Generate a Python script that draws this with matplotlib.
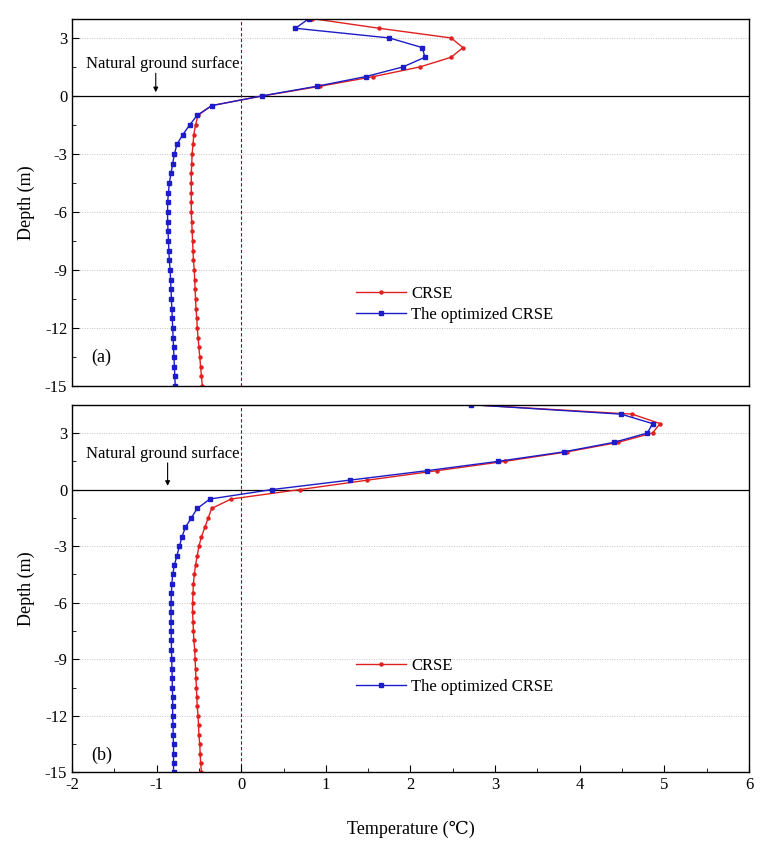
import matplotlib.pyplot as plt
from matplotlib.ticker import MultipleLocator
import numpy as np

plt.rcParams['font.family'] = ['Liberation Serif', 'DejaVu Serif']
plt.rcParams['axes.unicode_minus'] = False

# depths (m), 0.5 m steps
depth_a = [4, 3.5, 3, 2.5, 2, 1.5, 1, 0.5, 0, -0.5, -1, -1.5, -2, -2.5, -3, -3.5, -4,
           -4.5, -5, -5.5, -6, -6.5, -7, -7.5, -8, -8.5, -9, -9.5, -10, -10.5, -11,
           -11.5, -12, -12.5, -13, -13.5, -14, -14.5, -15]
depth_b = [4.5] + depth_a

# panel (a) temperatures (deg C)
crse_a = [0.84, 1.63, 2.48, 2.62, 2.48, 2.11, 1.56, 0.93, 0.25, -0.35, -0.51, -0.54,
          -0.56, -0.57, -0.58, -0.585, -0.59, -0.59, -0.59, -0.59, -0.59, -0.585, -0.58,
          -0.575, -0.57, -0.565, -0.555, -0.55, -0.545, -0.54, -0.535, -0.525, -0.52,
          -0.51, -0.50, -0.49, -0.48, -0.47, -0.46]
opt_a = [0.80, 0.64, 1.75, 2.14, 2.17, 1.91, 1.47, 0.89, 0.24, -0.35, -0.52, -0.61,
         -0.69, -0.76, -0.79, -0.81, -0.83, -0.85, -0.86, -0.87, -0.87, -0.87, -0.865,
         -0.86, -0.855, -0.85, -0.84, -0.835, -0.83, -0.825, -0.82, -0.815, -0.81,
         -0.805, -0.80, -0.795, -0.79, -0.785, -0.78]

# panel (b) temperatures (deg C)
crse_b = [2.72, 4.62, 4.95, 4.86, 4.45, 3.85, 3.12, 2.31, 1.49, 0.69, -0.12, -0.35,
          -0.39, -0.43, -0.47, -0.50, -0.52, -0.54, -0.555, -0.565, -0.57, -0.575,
          -0.575, -0.57, -0.565, -0.56, -0.55, -0.545, -0.54, -0.535, -0.53, -0.525,
          -0.52, -0.51, -0.505, -0.50, -0.49, -0.485, -0.48, -0.47]
opt_b = [2.72, 4.49, 4.86, 4.80, 4.40, 3.81, 3.04, 2.19, 1.28, 0.36, -0.37, -0.52,
         -0.59, -0.66, -0.70, -0.73, -0.76, -0.79, -0.81, -0.82, -0.825, -0.83, -0.83,
         -0.83, -0.83, -0.825, -0.825, -0.82, -0.82, -0.815, -0.815, -0.81, -0.81,
         -0.81, -0.805, -0.805, -0.80, -0.80, -0.80, -0.80]

labels = ['CRSE', 'The optimized CRSE']
yticks = [3, 0, -3, -6, -9, -12, -15]

RED = '#e02020'
BLUE = '#1c1cc8'

fig = plt.figure(figsize=(7.61, 8.46), dpi=100)
ax_a = fig.add_axes([0.0946, 0.5437, 0.8896, 0.4343])
ax_b = fig.add_axes([0.0946, 0.0869, 0.8896, 0.4347])


def draw_panel(ax, depth, crse, opt, ytop, tag, tag_y, arrow_x, text_y, leg_y):
    ax.plot(crse, depth, color=RED, lw=1.0, marker='o', ms=2.2, mec=RED, label=labels[0])
    ax.plot(opt, depth, color=BLUE, lw=1.0, marker='s', ms=2.2, mec=BLUE, label=labels[1])
    ax.axhline(0, color='black', lw=0.9, zorder=1)
    ax.axvline(0, color='#7a1030', lw=0.8, ls=(0, (3, 2)), zorder=1)
    for y in [3, -3, -6, -9, -12]:
        ax.axhline(y, color='#c4c4c4', lw=0.7, ls=(0, (1, 1.5)), zorder=0)
    ax.set_xlim(-2, 6)
    ax.set_ylim(-15, ytop)
    ax.set_yticks(yticks)
    ax.yaxis.set_minor_locator(MultipleLocator(1.5))
    ax.xaxis.set_major_locator(MultipleLocator(1))
    ax.xaxis.set_minor_locator(MultipleLocator(0.5))
    ax.tick_params(which='both', direction='in', labelsize=12)
    ax.tick_params(which='major', length=5)
    ax.tick_params(which='minor', length=3)
    ax.set_ylabel('Depth (m)', fontsize=13, labelpad=7)
    ax.text(-1.84, text_y, 'Natural ground surface', fontsize=12, va='center', ha='left')
    ax.annotate('', xy=(arrow_x, 0.05), xytext=(arrow_x, text_y - 0.35),
                arrowprops=dict(arrowstyle='-|>', color='black', lw=0.8,
                                mutation_scale=7))
    ax.text(-1.65, tag_y, tag, fontsize=13, va='center', ha='center')
    ax.legend(loc='upper left', bbox_to_anchor=(0.41, leg_y), frameon=False,
              fontsize=12, handlelength=3.0, handletextpad=0.3, labelspacing=0.3,
              borderaxespad=0)
    for s in ax.spines.values():
        s.set_linewidth(1.0)


draw_panel(ax_a, depth_a, crse_a, opt_a, 4, '(a)', -13.5, -1.01, 1.67, 0.29)
draw_panel(ax_b, depth_b, crse_b, opt_b, 4.5, '(b)', -14.1, -0.87, 1.91, 0.33)

ax_a.tick_params(axis='x', which='both', bottom=False, labelbottom=False)
ax_b.set_xlabel('Temperature (\u2103)', fontsize=13, labelpad=20)

fig.savefig('out.png', dpi=100)
